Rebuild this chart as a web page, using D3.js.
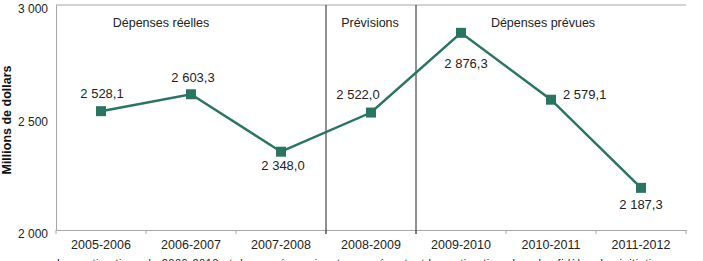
<!DOCTYPE html>
<html><head><meta charset="utf-8">
<script src="https://cdn.jsdelivr.net/npm/d3@7"></script>
<style>body{margin:0;background:#fff;}svg{display:block;font-family:"Liberation Sans",Arial,sans-serif;}</style>
</head><body><svg id="c" width="703" height="261"></svg>
<script>
const categories = ["2005-2006","2006-2007","2007-2008","2008-2009","2009-2010","2010-2011","2011-2012"];
const values = [2528.1, 2603.3, 2348.0, 2522.0, 2876.3, 2579.1, 2187.3];
const valueLabels = ["2 528,1","2 603,3","2 348,0","2 522,0","2 876,3","2 579,1","2 187,3"];
const labelPos = ["above","above","below","aboveLeft","below","right","below"];
const yTicks = [2000, 2500, 3000];
const yTickLabels = ["2 000","2 500","3 000"];
const sections = ["Dépenses réelles","Prévisions","Dépenses prévues"];
const sectionBounds = [0, 3, 4, 7];
const footnote = "Les estimations de 2009-2010 et des années suivantes représentent les estimations les plus fidèles des initiatives";

const svg = d3.select("#c");
const m = {l:56, r:17, t:5, b:31};
const W = 703, H = 261;
const x = d3.scaleBand().domain(categories).range([m.l, W-m.r]);
const y = d3.scaleLinear().domain([2000,3000]).range([H-m.b, m.t]);
const green = "#2a7562";

// top border
svg.append("line").attr("x1",m.l).attr("x2",W-m.r).attr("y1",y(3000)).attr("y2",y(3000))
  .attr("stroke","#a6a6a6").attr("stroke-width",1);

// x axis
const xa = svg.append("g").attr("transform",`translate(0,${y(2000)})`)
  .call(d3.axisBottom(x).tickSize(0).tickPadding(10));
xa.select(".domain").attr("stroke","#a6a6a6");
xa.selectAll("text").attr("font-size",12.5).attr("fill","#222").attr("font-family","Liberation Sans, Arial, sans-serif");
// category boundary ticks
const bounds = d3.range(categories.length+1).map(i => m.l + i*x.step());
svg.append("g").selectAll("line").data(bounds).join("line")
  .attr("x1",d=>d).attr("x2",d=>d).attr("y1",y(2000)).attr("y2",y(2000)+4)
  .attr("stroke","#a6a6a6");

// y axis
const ya = svg.append("g").attr("transform",`translate(${m.l},0)`)
  .call(d3.axisLeft(y).tickValues(yTicks).tickFormat((d,i)=>yTickLabels[i]).tickSize(0).tickPadding(8));
ya.select(".domain").attr("stroke","#a6a6a6");
ya.selectAll("text").attr("font-size",12).attr("fill","#222").attr("dy","0.65em")
  .attr("font-family","Liberation Sans, Arial, sans-serif");

svg.append("text").attr("transform",`translate(11,120) rotate(-90)`)
  .attr("text-anchor","middle").attr("font-size",12.5).attr("font-weight","bold").attr("fill","#111")
  .text("Millions de dollars");

// section dividers
[sectionBounds[1], sectionBounds[2]].forEach(i=>{
  const xx = m.l + i*x.step();
  svg.append("line").attr("x1",xx).attr("x2",xx).attr("y1",y(3000)).attr("y2",y(2000)+4)
    .attr("stroke","#222").attr("stroke-width",1);
});
const secX = [161, 370, 543];
sections.forEach((s,i)=>{
  svg.append("text").attr("x",secX[i]).attr("y",27).attr("text-anchor","middle")
    .attr("font-size",12.5).attr("fill","#222").text(s);
});

// line
const cx = d => x(d) + x.bandwidth()/2;
svg.append("path").datum(values)
  .attr("d", d3.line().x((d,i)=>cx(categories[i])).y(d=>y(d)))
  .attr("fill","none").attr("stroke",green).attr("stroke-width",2.5);
svg.append("g").selectAll("rect").data(values).join("rect")
  .attr("x",(d,i)=>cx(categories[i])-5).attr("y",d=>y(d)-5)
  .attr("width",10).attr("height",10).attr("fill",green);

// labels
const dxs = [1, 2, 2, -13, 5, 12, 0];
const dys = [-13, -12, 18, -14, 35, -1, 21];
svg.append("g").selectAll("text").data(values).join("text")
  .attr("font-size",13).attr("fill","#222")
  .attr("text-anchor",(d,i)=>labelPos[i]==="right"?"start":"middle")
  .attr("x",(d,i)=>cx(categories[i]) + dxs[i])
  .attr("y",(d,i)=>y(d) + dys[i])
  .text((d,i)=>valueLabels[i]);

svg.append("text").attr("x",57).attr("y",267).attr("font-size",11).attr("fill","#222")
  .attr("textLength",613).attr("lengthAdjust","spacing").text(footnote);
</script></body></html>
